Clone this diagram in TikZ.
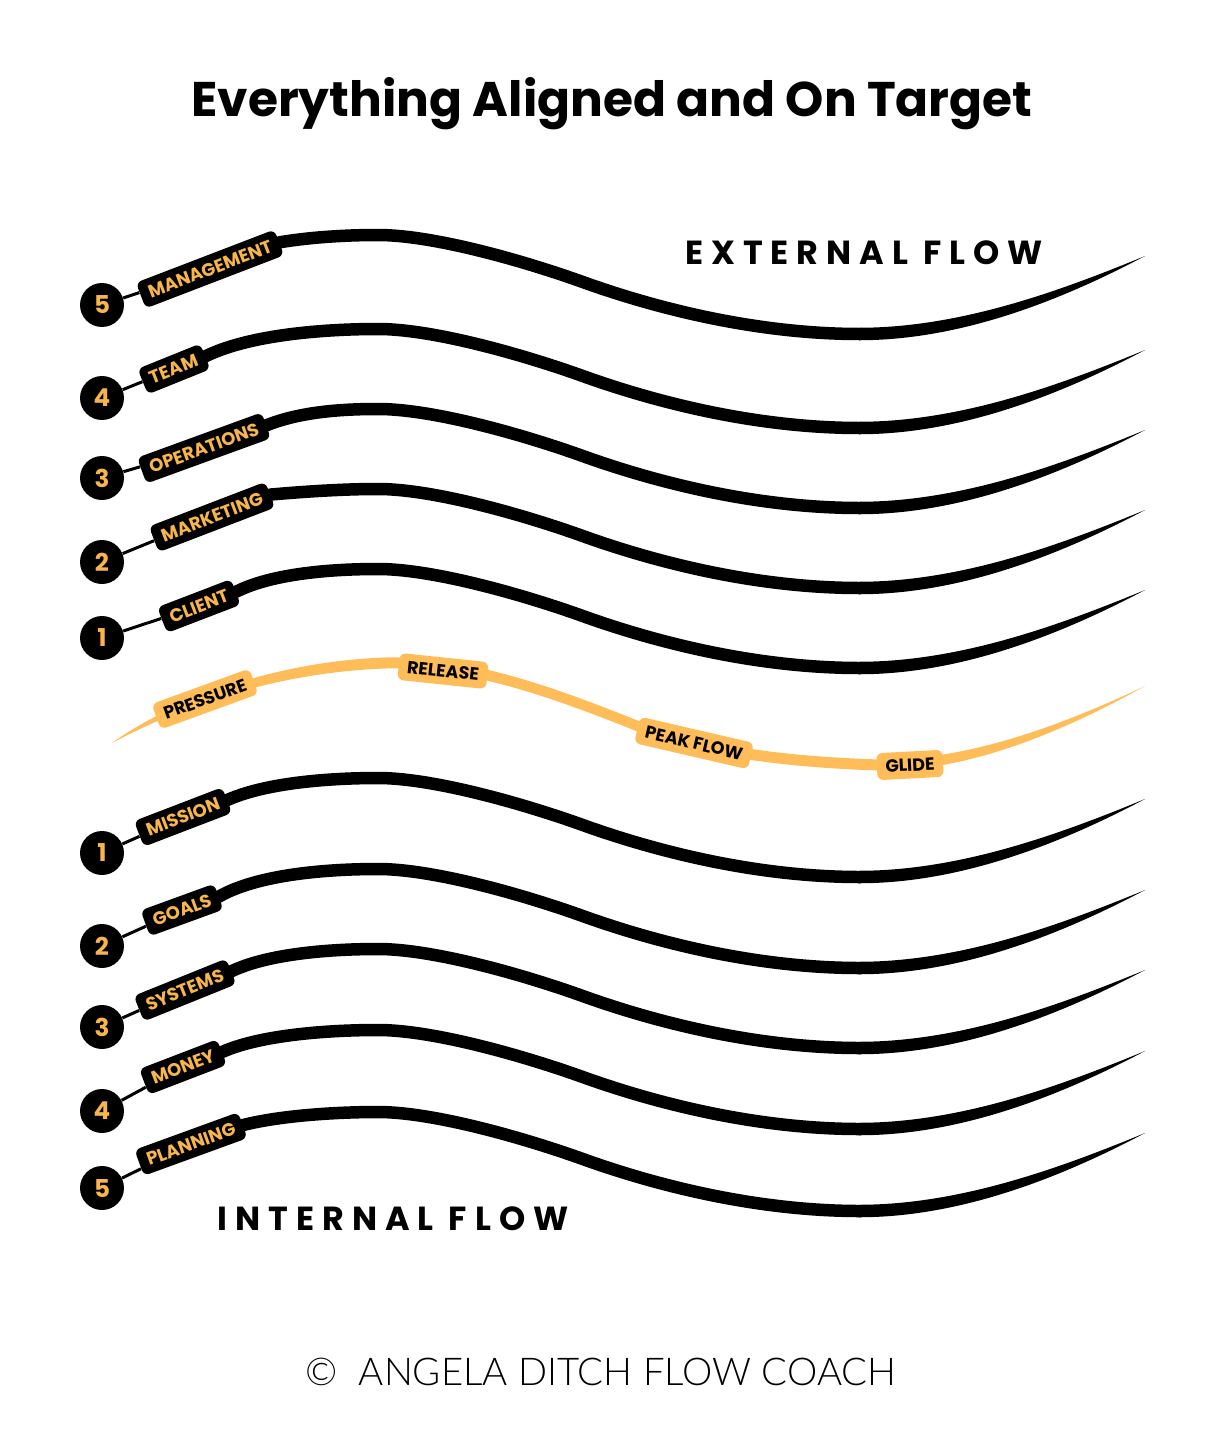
\documentclass[tikz,border=0pt]{standalone}
\usepackage{fontspec}
\setmainfont{Poppins}
\newfontfamily\footfont{Lato Light}
\usetikzlibrary{backgrounds,calc}
\definecolor{labor}{HTML}{F7B54C}
\definecolor{flowy}{HTML}{FFBD5A}
\tikzset{
  numc/.style={circle, fill=black, minimum size=0.88cm, inner sep=0pt, text=labor,
    font=\bfseries\fontsize{14}{14}\selectfont},
  blab/.style={fill=black, rounded corners=0.12cm, text=labor,
    font=\bfseries\fontsize{10.3}{10.3}\selectfont, minimum height=0.55cm, inner xsep=0.17cm, inner ysep=0pt},
  ylab/.style={fill=flowy, rounded corners=0.12cm, text=black,
    font=\bfseries\fontsize{10}{10}\selectfont, minimum height=0.54cm, inner xsep=0.17cm, inner ysep=0pt},
  conn/.style={draw=black, line width=0.06cm},
  flowline/.style={draw=black, line width=0.25cm, line cap=round},
  headtxt/.style={font=\bfseries\fontsize{19}{19}\selectfont\addfontfeature{LetterSpace=24}},
}
\newcommand\blackflow[3]{%
  \draw[flowline] (#1) .. controls (#3,#2-18) and (340,#2-21) .. (378,#2-21)
    .. controls (430,#2-21) and (515,#2+2) .. (580,#2+25)
    .. controls (660,#2+54) and (760,#2+78) .. (860,#2+78);
  \fill[black] (859,#2+71.75) .. controls (960,#2+71.75) and (1060,#2+35) .. (1145,#2)
    .. controls (1060,#2+45) and (960,#2+84.25) .. (859,#2+84.25) -- cycle;
}
\begin{document}
\begin{tikzpicture}[x=0.02cm,y=-0.02cm]
\useasboundingbox (0,0) rectangle (1225,1440);

% title and headings
\node[font=\bfseries\fontsize{27.7}{27.7}\selectfont] (title) at (612,104) {Everything Aligned and On Target};
\node[headtxt] (ext) at (864,253) {EXTERNAL FLOW};
\node[headtxt] (int) at (393,1219) {INTERNAL FLOW};
\node[font=\footfont\fontsize{21.8}{21.8}\selectfont] (foot) at (601,1372) {©\hspace{0.55em}ANGELA DITCH FLOW COACH};

% yellow flow line
\fill[flowy] (112,743) .. controls (150,715) and (250,662.5) .. (385,657.5)
  .. controls (470,655.5) and (560,689.5) .. (640,721.5)
  .. controls (700,744.5) and (780,756.5) .. (880,759.5)
  .. controls (960,760.5) and (1050,731) .. (1145,686)
  .. controls (1050,739) and (960,771.5) .. (880,770.5)
  .. controls (780,767.5) and (700,755.5) .. (640,732.5)
  .. controls (560,700.5) and (470,666.5) .. (385,668.5)
  .. controls (250,673.5) and (150,723) .. (112,743) -- cycle;
\node[ylab, rotate=20] (pres) at (205,699) {PRESSURE};
\node[ylab, rotate=-6] (rel) at (443,671) {RELEASE};
\node[ylab, rotate=-13] (peak) at (694,743) {PEAK FLOW};
\node[ylab, rotate=3] (glide) at (910,765) {GLIDE};

% external
\node[numc] (c5e) at (102,305) {5};
\node[numc] (c4e) at (102,398) {4};
\node[numc] (c3e) at (102,478) {3};
\node[numc] (c2e) at (102,562) {2};
\node[numc] (c1e) at (102,638) {1};
\node[blab, rotate=21] (l5e) at (210,269) {MANAGEMENT};
\node[blab, rotate=22] (l4e) at (174,369) {TEAM};
\node[blab, rotate=20] (l3e) at (204,448) {OPERATIONS};
\node[blab, rotate=21] (l2e) at (212,517) {MARKETING};
\node[blab, rotate=21] (l1e) at (199,606) {CLIENT};
% internal
\node[numc] (c1i) at (102,853) {1};
\node[numc] (c2i) at (102,946) {2};
\node[numc] (c3i) at (102,1027) {3};
\node[numc] (c4i) at (102,1111) {4};
\node[numc] (c5i) at (102,1188) {5};
\node[blab, rotate=21] (l1i) at (183,817) {MISSION};
\node[blab, rotate=20] (l2i) at (182,910) {GOALS};
\node[blab, rotate=22] (l3i) at (185,990) {SYSTEMS};
\node[blab, rotate=21] (l4i) at (183,1067) {MONEY};
\node[blab, rotate=20] (l5i) at (191,1144) {PLANNING};

% thin connectors
\foreach \n in {5e,4e,3e,2e,1e,1i,2i,3i,4i,5i}{
  \draw[conn] (c\n) -- (l\n);
}

\begin{pgfonlayer}{background}
\fill[white] (0,0) rectangle (1225,1440);
\blackflow{l5e.east}{256}{305}
\blackflow{l4e.east}{350}{255}
\blackflow{l3e.east}{430}{300}
\blackflow{l2e.east}{510}{300}
\blackflow{l1e.east}{590}{275}
\blackflow{l1i.east}{799}{270}
\blackflow{l2i.east}{890}{262}
\blackflow{l3i.east}{970}{272}
\blackflow{l4i.east}{1051}{265}
\blackflow{l5i.east}{1133}{283}
\end{pgfonlayer}
\end{tikzpicture}
\end{document}
